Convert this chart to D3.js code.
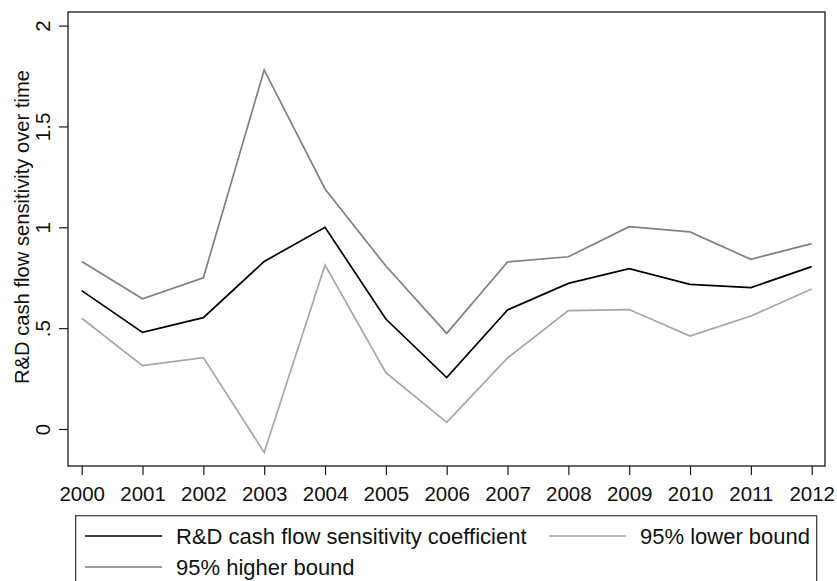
<!DOCTYPE html>
<html>
<head>
<meta charset="utf-8">
<script src="https://cdn.jsdelivr.net/npm/d3@7"></script>
<style>
  body { margin: 0; background: #fff; }
  svg { font-family: "Liberation Sans", Arial, Helvetica, sans-serif; }
</style>
</head>
<body>
<svg id="chart" width="837" height="581"></svg>
<script>
var years = [2000, 2001, 2002, 2003, 2004, 2005, 2006, 2007, 2008, 2009, 2010, 2011, 2012];
var coefficient = [0.686, 0.479, 0.552, 0.831, 1.000, 0.545, 0.255, 0.590, 0.722, 0.795, 0.717, 0.701, 0.805];
var lowerBound = [0.549, 0.314, 0.354, -0.116, 0.813, 0.279, 0.033, 0.352, 0.587, 0.592, 0.461, 0.560, 0.694];
var higherBound = [0.830, 0.646, 0.750, 1.780, 1.190, 0.808, 0.474, 0.828, 0.854, 1.003, 0.977, 0.841, 0.919];
var yTicks = [0, 0.5, 1, 1.5, 2];
var yTickLabels = ["0", ".5", "1", "1.5", "2"];
var seriesNames = ["R&D cash flow sensitivity coefficient", "95% lower bound", "95% higher bound"];

var cfg = {
  left: 68, top: 12, right: 825, bottom: 466,
  tick: 9,
  colors: ["#000000", "#a6a6a6", "#808080"]
};

var svg = d3.select("#chart");

var x = d3.scaleLinear().domain([2000, 2012]).range([81.7, 811.7]);
var y = d3.scaleLinear().domain([0, 2]).range([429, 25.6]);

// plot frame
svg.append("rect")
  .attr("x", cfg.left).attr("y", cfg.top)
  .attr("width", cfg.right - cfg.left).attr("height", cfg.bottom - cfg.top)
  .attr("fill", "none").attr("stroke", "#1a1a1a").attr("stroke-width", 1.3);

// y axis
var yAxis = svg.append("g")
  .attr("transform", "translate(" + cfg.left + ",0)")
  .call(d3.axisLeft(y).tickValues(yTicks).tickSize(cfg.tick).tickSizeOuter(0)
    .tickFormat(function(d, i) { return yTickLabels[i]; }));
yAxis.select(".domain").remove();
yAxis.selectAll(".tick line").attr("stroke", "#1a1a1a").attr("stroke-width", 1.2);
yAxis.selectAll(".tick text")
  .attr("x", null).attr("dy", null)
  .attr("transform", "translate(-18,0) rotate(-90)")
  .attr("text-anchor", "middle")
  .attr("font-size", 20.5).attr("fill", "#111");

// x axis
var xAxis = svg.append("g")
  .attr("transform", "translate(0," + cfg.bottom + ")")
  .call(d3.axisBottom(x).tickValues(years).tickSize(cfg.tick).tickSizeOuter(0)
    .tickFormat(d3.format("d")));
xAxis.select(".domain").remove();
xAxis.selectAll(".tick line").attr("stroke", "#1a1a1a").attr("stroke-width", 1.2);
xAxis.selectAll(".tick text")
  .attr("y", 35).attr("dy", null)
  .attr("font-size", 20.5).attr("fill", "#111");

// y title
svg.append("text")
  .attr("transform", "translate(29," + ((cfg.top + cfg.bottom) / 2 - 12) + ") rotate(-90)")
  .attr("text-anchor", "middle")
  .attr("font-size", 20.2).attr("fill", "#111")
  .text("R&D cash flow sensitivity over time");

// lines
var line = d3.line()
  .x(function(d, i) { return x(years[i]); })
  .y(function(d) { return y(d); });

[coefficient, lowerBound, higherBound].forEach(function(s, k) {
  svg.append("path")
    .datum(s)
    .attr("d", line)
    .attr("fill", "none")
    .attr("stroke", cfg.colors[k])
    .attr("stroke-width", 1.7)
    .attr("stroke-linejoin", "miter");
});

// legend
var legend = svg.append("g");
legend.append("rect")
  .attr("x", 75.7).attr("y", 515.7)
  .attr("width", 741).attr("height", 90)
  .attr("fill", "#fff").attr("stroke", "#333").attr("stroke-width", 1.2);

var legendPos = [[85, 536], [549, 536], [85, 567]];
seriesNames.forEach(function(name, k) {
  var p = legendPos[k];
  legend.append("line")
    .attr("x1", p[0]).attr("x2", p[0] + 77)
    .attr("y1", p[1]).attr("y2", p[1])
    .attr("stroke", cfg.colors[k]).attr("stroke-width", 1.7);
  legend.append("text")
    .attr("x", p[0] + 91).attr("y", p[1] + 8)
    .attr("font-size", 22).attr("fill", "#111")
    .text(name);
});
</script>
</body>
</html>
